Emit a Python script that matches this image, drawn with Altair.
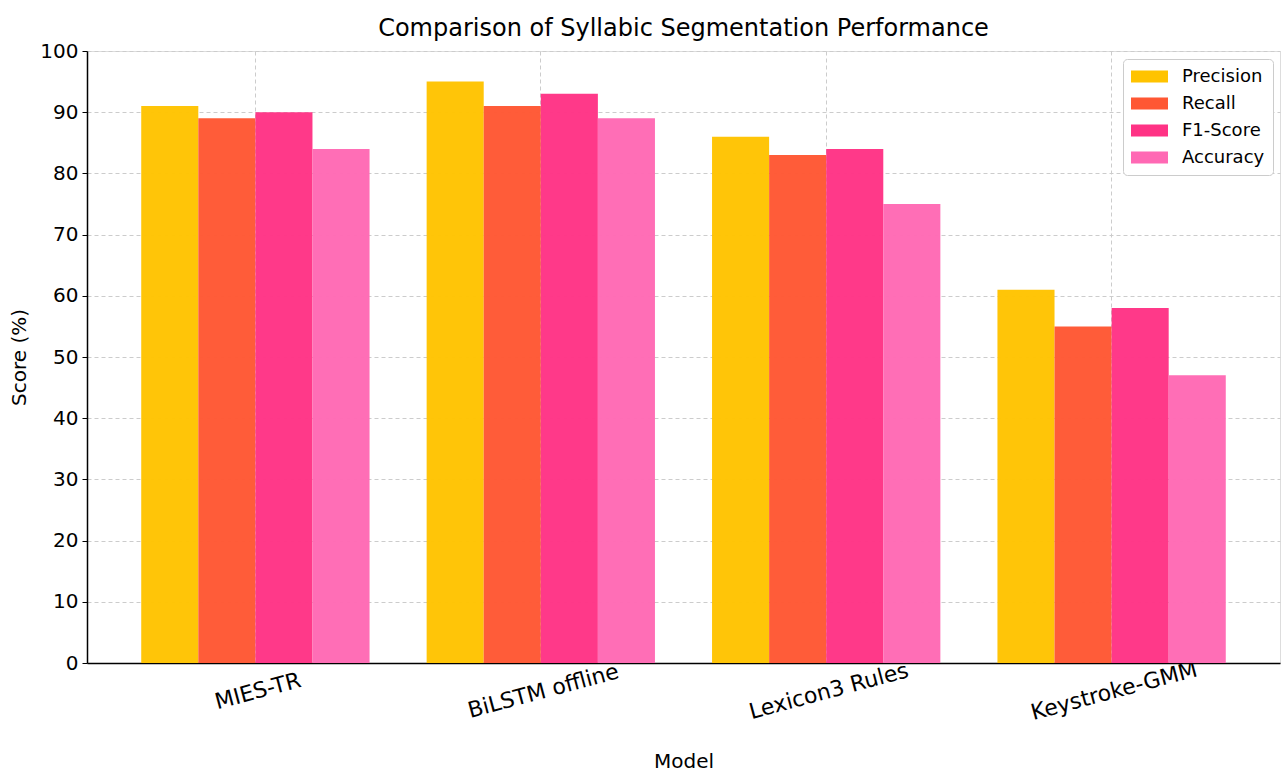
import altair as alt
import pandas as pd

models = ["MIES-TR", "BiLSTM offline", "Lexicon3 Rules", "Keystroke-GMM"]
metrics = ["Precision", "Recall", "F1-Score", "Accuracy"]
precision = [91, 95, 86, 61]
recall = [89, 91, 83, 55]
f1 = [90, 93, 84, 58]
accuracy = [84, 89, 75, 47]
colors = ["#FFC300", "#FF5733", "#FF3385", "#FF69B4"]

rows = []
for i, m in enumerate(models):
    for met, vals in zip(metrics, [precision, recall, f1, accuracy]):
        rows.append({"Model": m, "Metric": met, "Score": vals[i]})
df = pd.DataFrame(rows)

FONT = "DejaVu Sans"

bars = alt.Chart(df).mark_bar(opacity=0.97).encode(
    x=alt.X("Model:N", sort=models,
            scale=alt.Scale(paddingInner=0.2, paddingOuter=0.19),
            axis=alt.Axis(title="Model", labelAngle=345, labelAlign="center",
                          labelBaseline="top", labelPadding=18, labelFontSize=22,
                          titleFontSize=20, titlePadding=28, tickSize=0,
                          domainColor="black", domainWidth=1.5,
                          grid=True, gridDash=[4, 3], gridColor="#cccccc",
                          labelColor="black", titleColor="black",
                          labelFont=FONT, titleFont=FONT, titleFontWeight="normal")),
    xOffset=alt.XOffset("Metric:N", sort=metrics,
                        scale=alt.Scale(paddingInner=0, paddingOuter=0)),
    y=alt.Y("Score:Q", scale=alt.Scale(domain=[0, 100], nice=False),
            axis=alt.Axis(title="Score (%)", values=list(range(0, 101, 10)),
                          labelFontSize=20, titleFontSize=20, labelPadding=4,
                          tickSize=5, tickColor="black", domainColor="black",
                          domainWidth=1.5, titlePadding=10,
                          grid=True, gridDash=[4, 3], gridColor="#cccccc",
                          labelColor="black", titleColor="black",
                          labelFont=FONT, titleFont=FONT, titleFontWeight="normal")),
    color=alt.Color("Metric:N", sort=metrics,
                    scale=alt.Scale(domain=metrics, range=colors),
                    legend=alt.Legend(title=None, orient="none", legendX=1036, legendY=8,
                                      symbolType="M-2,-0.66H2V0.66H-2Z", symbolSize=342,
                                      symbolStrokeWidth=0, symbolOpacity=1, symbolOffset=9,
                                      labelFontSize=18, labelFont=FONT, labelColor="black",
                                      labelOffset=23, rowPadding=8,
                                      padding=8, strokeColor="#cccccc", fillColor="white",
                                      cornerRadius=4)),
)

chart = bars.properties(
    width=1193, height=612,
    title=alt.TitleParams("Comparison of Syllabic Segmentation Performance",
                          fontSize=24, font=FONT, fontWeight="normal", color="black",
                          anchor="middle", offset=0),
    autosize=alt.AutoSizeParams(type="none"),
    padding={"left": 87, "top": 51, "right": 1, "bottom": 110},
).configure_view(stroke=None).configure_axis(zindex=1, gridOpacity=0.9).configure(background="white")

chart.save("out.html", embed_options={"renderer": "svg", "actions": False})
